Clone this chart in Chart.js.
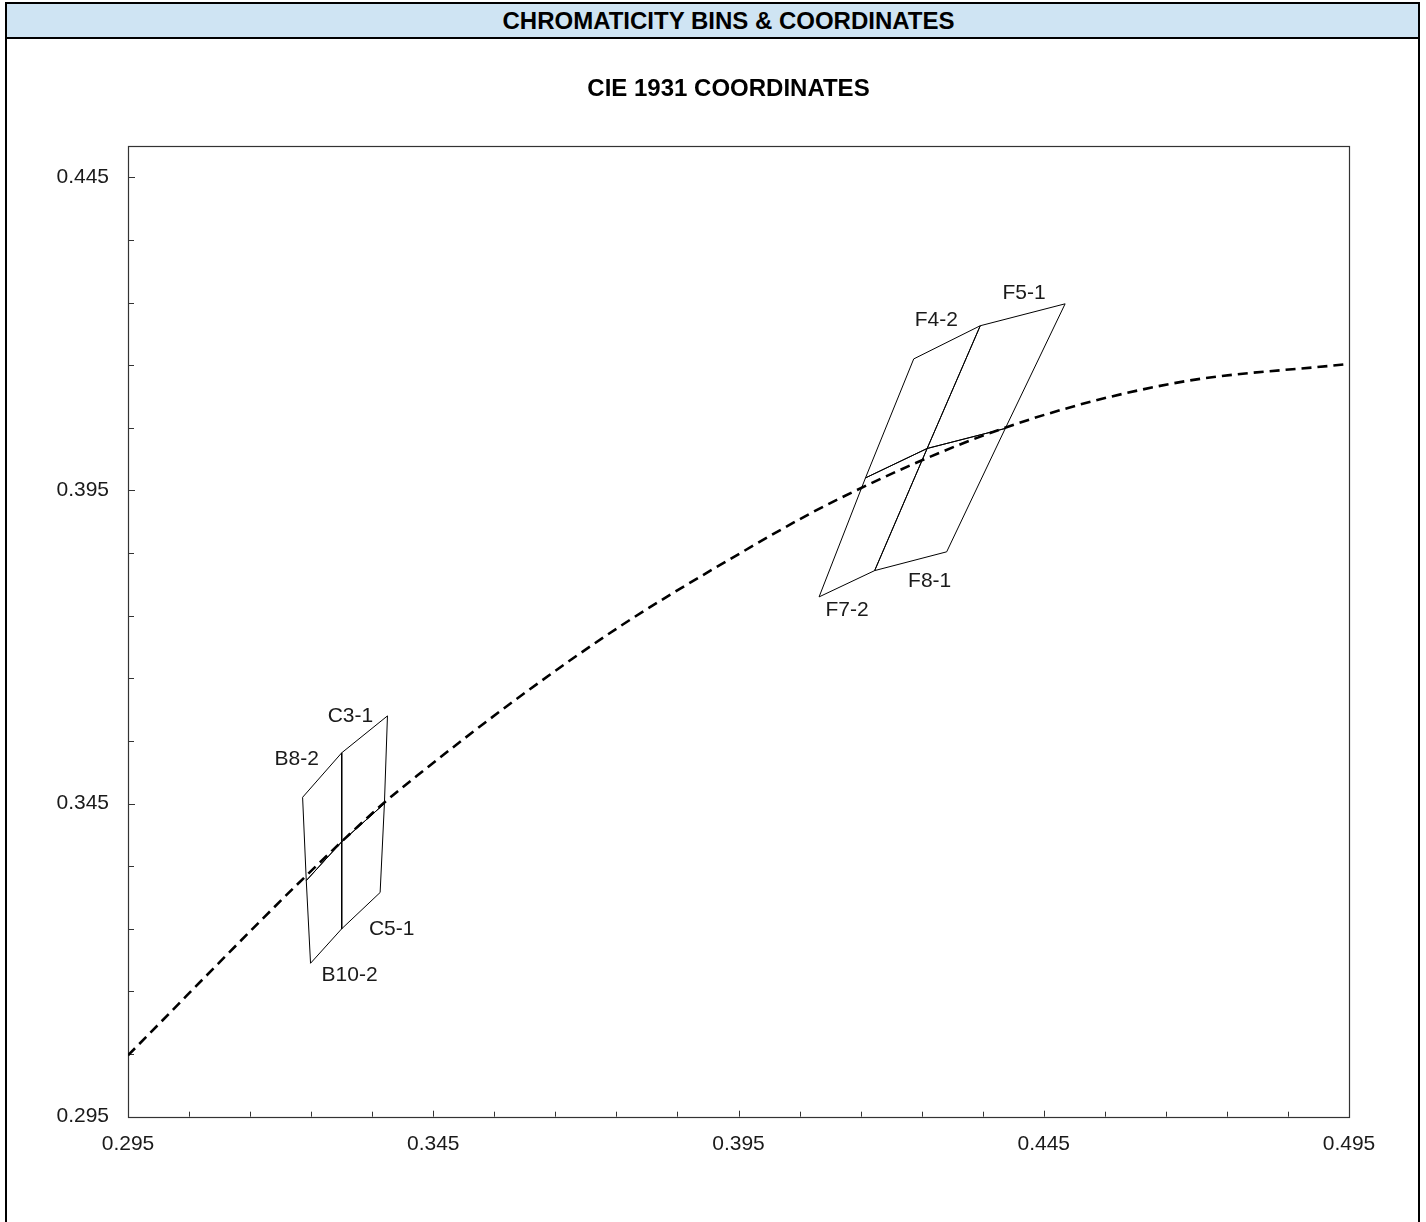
<!DOCTYPE html>
<html>
<head>
<meta charset="utf-8">
<title>Chromaticity Bins &amp; Coordinates</title>
<script src="https://cdn.jsdelivr.net/npm/chart.js@4.4.1/dist/chart.umd.min.js"></script>
<style>
  html, body { margin: 0; padding: 0; background: #fff; width: 1426px; height: 1222px; overflow: hidden;
    font-family: "Liberation Sans", Arial, Helvetica, sans-serif; }
  #chart { position: absolute; left: 0; top: 0; }
  #frame { position: absolute; left: 5px; top: 2px; width: 1411px; height: 1240px;
    border: 2px solid #000; border-bottom: none; pointer-events: none; }
  #header { position: absolute; left: 0; top: 0; width: 100%; height: 33px; box-sizing: content-box;
    background: #cfe4f3; border-bottom: 2px solid #000; font-weight: bold; font-size: 24px;
    line-height: 34px; text-align: center; color: #000; }
  #header span, #title span { position: relative; left: 16px; }
  #title { position: absolute; left: 0; top: 69px; width: 100%; font-weight: bold; font-size: 24px;
    line-height: 30px; text-align: center; color: #000; }
</style>
</head>
<body>
<canvas id="chart" width="1426" height="1222"></canvas>
<div id="frame">
  <div id="header"><span>CHROMATICITY BINS &amp; COORDINATES</span></div>
  <div id="title"><span>CIE 1931 COORDINATES</span></div>
</div>
<script>
// Planckian locus (CIE 1931 x, y) drawn as the dashed reference curve
const locusX = [0.2950, 0.3240, 0.3368, 0.3428, 0.3592, 0.3756, 0.3920, 0.4111, 0.4389, 0.4662, 0.4950];
const locusY = [0.3048, 0.3333, 0.3450, 0.3498, 0.3621, 0.3733, 0.3831, 0.3935, 0.4051, 0.4121, 0.4152];

// Chromaticity bins: four corners each, ordered upper-left, upper-right, lower-right, lower-left
const binNames = ['B8-2', 'C3-1', 'B10-2', 'C5-1', 'F4-2', 'F5-1', 'F7-2', 'F8-1'];
const binCornerX = [
  [0.3236, 0.3300, 0.3300, 0.3242],
  [0.3300, 0.3375, 0.3370, 0.3300],
  [0.3242, 0.3300, 0.3300, 0.3249],
  [0.3300, 0.3370, 0.3363, 0.3300],
  [0.4237, 0.4346, 0.4259, 0.4158],
  [0.4346, 0.4485, 0.4387, 0.4259],
  [0.4158, 0.4259, 0.4173, 0.4082],
  [0.4259, 0.4387, 0.4291, 0.4173]
];
const binCornerY = [
  [0.3460, 0.3531, 0.3389, 0.3327],
  [0.3531, 0.3590, 0.3450, 0.3389],
  [0.3327, 0.3389, 0.3250, 0.3195],
  [0.3389, 0.3450, 0.3308, 0.3250],
  [0.4160, 0.4213, 0.4017, 0.3970],
  [0.4213, 0.4248, 0.4049, 0.4017],
  [0.3970, 0.4017, 0.3822, 0.3780],
  [0.4017, 0.4049, 0.3852, 0.3822]
];

// Axis ranges and labelled ticks
const xTickLabels = ['0.295', '0.345', '0.395', '0.445', '0.495'];
const yTickLabels = ['0.295', '0.345', '0.395', '0.445'];
const xRange = [0.295, 0.495];
const yRange = [0.295, 0.450];
const minorStep = 0.01;

// Where each bin name sits: which corner it hangs off and the pixel offset from it
const binLabelPlacement = {
  'B8-2':  { corner: 1, dx: -45, dy: 6 },
  'C3-1':  { corner: 1, dx: -37, dy: 0 },
  'B10-2': { corner: 3, dx: 39,  dy: 12 },
  'C5-1':  { corner: 3, dx: 50,  dy: 0 },
  'F4-2':  { corner: 1, dx: -44, dy: -6 },
  'F5-1':  { corner: 1, dx: -41, dy: -11 },
  'F7-2':  { corner: 3, dx: 28,  dy: 13 },
  'F8-1':  { corner: 3, dx: 55,  dy: 11 }
};

const FONT = '"Liberation Sans", Arial, Helvetica, sans-serif';

function stepTicks(range) {
  const out = [];
  for (let k = 0; ; k++) {
    const v = Math.round((range[0] + k * minorStep) * 1000) / 1000;
    if (v > range[1] + 1e-9) break;
    out.push({ value: v });
  }
  return out;
}

const datasets = [];
datasets.push({
  label: 'Planckian locus',
  data: locusX.map((x, i) => ({ x: x, y: locusY[i] })),
  showLine: true,
  borderColor: '#000',
  borderWidth: 2.6,
  borderDash: [10, 6],
  pointRadius: 0,
  cubicInterpolationMode: 'monotone',
  fill: false
});
binNames.forEach((name, i) => {
  const pts = binCornerX[i].map((x, k) => ({ x: x, y: binCornerY[i][k] }));
  pts.push(pts[0]);
  datasets.push({
    label: name,
    data: pts,
    showLine: true,
    borderColor: '#000',
    borderWidth: 1,
    pointRadius: 0,
    tension: 0,
    fill: false
  });
});

// Plot frame and inward tick marks
const framePlugin = {
  id: 'frameTicks',
  beforeDatasetsDraw(chart) {
    const { ctx, chartArea: a, scales } = chart;
    ctx.save();
    ctx.strokeStyle = '#333';
    ctx.lineWidth = 1.2;
    ctx.strokeRect(Math.round(a.left) + 0.5, Math.round(a.top) + 0.5,
      Math.round(a.right - a.left), Math.round(a.bottom - a.top));
    ctx.lineWidth = 1;
    ctx.beginPath();
    scales.x.ticks.forEach((t) => {
      const major = xTickLabels.includes(t.value.toFixed(3));
      const px = Math.round(scales.x.getPixelForValue(t.value)) + 0.5;
      ctx.moveTo(px, a.bottom);
      ctx.lineTo(px, a.bottom - (major ? 6 : 5));
    });
    scales.y.ticks.forEach((t) => {
      const major = yTickLabels.includes(t.value.toFixed(3));
      const py = Math.round(scales.y.getPixelForValue(t.value)) + 0.5;
      ctx.moveTo(a.left, py);
      ctx.lineTo(a.left + (major ? 7 : 6), py);
    });
    ctx.stroke();
    ctx.restore();
  }
};

// Bin names beside their quadrangles
const binLabelPlugin = {
  id: 'binLabels',
  afterDatasetsDraw(chart) {
    const { ctx, scales } = chart;
    ctx.save();
    ctx.font = '21px ' + FONT;
    ctx.fillStyle = '#1a1a1a';
    ctx.textAlign = 'center';
    ctx.textBaseline = 'middle';
    binNames.forEach((name, i) => {
      const p = binLabelPlacement[name];
      const px = scales.x.getPixelForValue(binCornerX[i][p.corner]) + p.dx;
      const py = scales.y.getPixelForValue(binCornerY[i][p.corner]) + p.dy;
      ctx.fillText(name, px, py);
    });
    ctx.restore();
  }
};

new Chart(document.getElementById('chart'), {
  type: 'scatter',
  data: { datasets: datasets },
  options: {
    responsive: false,
    animation: false,
    devicePixelRatio: 1,
    layout: { padding: { top: 146, right: 77, left: 0, bottom: 0 } },
    plugins: { legend: { display: false }, title: { display: false }, tooltip: { enabled: false } },
    scales: {
      x: {
        type: 'linear',
        min: xRange[0], max: xRange[1],
        grid: { display: false, drawTicks: false },
        border: { display: false },
        afterBuildTicks: (s) => { s.ticks = stepTicks(xRange); },
        afterFit: (s) => { s.height = 1222 - 1116.7; },
        ticks: {
          autoSkip: false, maxRotation: 0, padding: 15,
          color: '#1a1a1a', font: { family: FONT, size: 21 },
          callback: (v) => { const s = Number(v).toFixed(3); return xTickLabels.includes(s) ? s : ''; }
        }
      },
      y: {
        type: 'linear',
        min: yRange[0], max: yRange[1],
        grid: { display: false, drawTicks: false },
        border: { display: false },
        afterBuildTicks: (s) => { s.ticks = stepTicks(yRange); },
        afterFit: (s) => { s.width = 128; },
        ticks: {
          autoSkip: false, padding: 19,
          color: '#1a1a1a', font: { family: FONT, size: 21 },
          callback: (v) => { const s = Number(v).toFixed(3); return yTickLabels.includes(s) ? s : ''; }
        }
      }
    }
  },
  plugins: [framePlugin, binLabelPlugin]
});
</script>
</body>
</html>
